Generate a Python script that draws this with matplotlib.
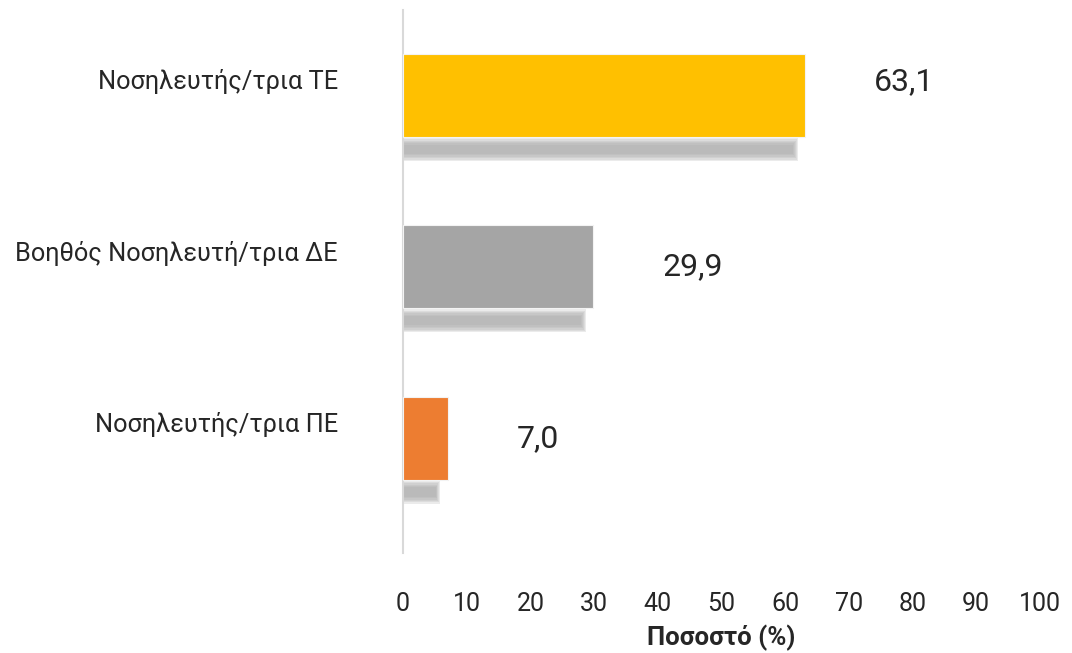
import matplotlib
matplotlib.use("Agg")
import matplotlib.pyplot as plt
from matplotlib.transforms import ScaledTranslation
import numpy as np

# Staff categories and their share (%)
categories = ["Νοσηλευτής/τρια ΤΕ", "Βοηθός Νοσηλευτή/τρια ΔΕ", "Νοσηλευτής/τρια ΠΕ"]
values = [63.1, 29.9, 7.0]
value_labels = ["63,1", "29,9", "7,0"]
x_ticks = [0, 10, 20, 30, 40, 50, 60, 70, 80, 90, 100]
x_label = "Ποσοστό (%)"

colors = ["#FFC000", "#A5A5A5", "#ED7D31"]
label_lift_pt = [10, 0, 0]

plt.rcParams["font.family"] = ["Roboto", "DejaVu Sans"]
text_color = "#262626"

fig = plt.figure(figsize=(10.72, 6.53), dpi=100)
ax = fig.add_axes([0.376, 0.153, 0.594, 0.832])

ypos = np.arange(len(categories))
bar_h = 0.485

# soft drop shadow under each bar, built from stacked translucent layers
for y, v in zip(ypos, values):
    base_y = y + bar_h / 2 + 0.072
    for k in range(6):
        spread = (5 - k) * 0.008
        ax.barh(base_y, max(v - 1.9 + (5 - k) * 0.15, 0), height=0.055 + 2 * spread,
                left=0, color="#a8a8a8", alpha=0.22, linewidth=0, zorder=1)

ax.barh(ypos, values, height=bar_h, color=colors, edgecolor="#f3f3f3",
        linewidth=0.8, zorder=3)

for y, v, lab, lift in zip(ypos, values, value_labels, label_lift_pt):
    ax.annotate(lab, xy=(v, y), xytext=(50, lift), textcoords="offset points",
                ha="left", va="center", fontsize=23, color=text_color)

ax.set_xlim(0, 100)
ax.set_ylim(2.67, -0.50)
ax.set_xticks(x_ticks)
ax.set_xticklabels([str(t) for t in x_ticks], fontsize=18, color=text_color)
ax.set_yticks(ypos)
ax.set_yticklabels(categories, fontsize=18.3, color=text_color)
ax.tick_params(axis="x", length=0, pad=28)
ax.tick_params(axis="y", length=0, pad=47)
for lbl in ax.get_yticklabels():
    lbl.set_transform(lbl.get_transform() + ScaledTranslation(0, 0.16, fig.dpi_scale_trans))

ax.set_xlabel(x_label, fontsize=18.5, fontweight="bold", color=text_color, labelpad=6)

for side in ["top", "right", "bottom"]:
    ax.spines[side].set_visible(False)
ax.spines["left"].set_color("#d9d9d9")
ax.spines["left"].set_linewidth(1.5)

fig.savefig("out.png", dpi=100, facecolor="white")
